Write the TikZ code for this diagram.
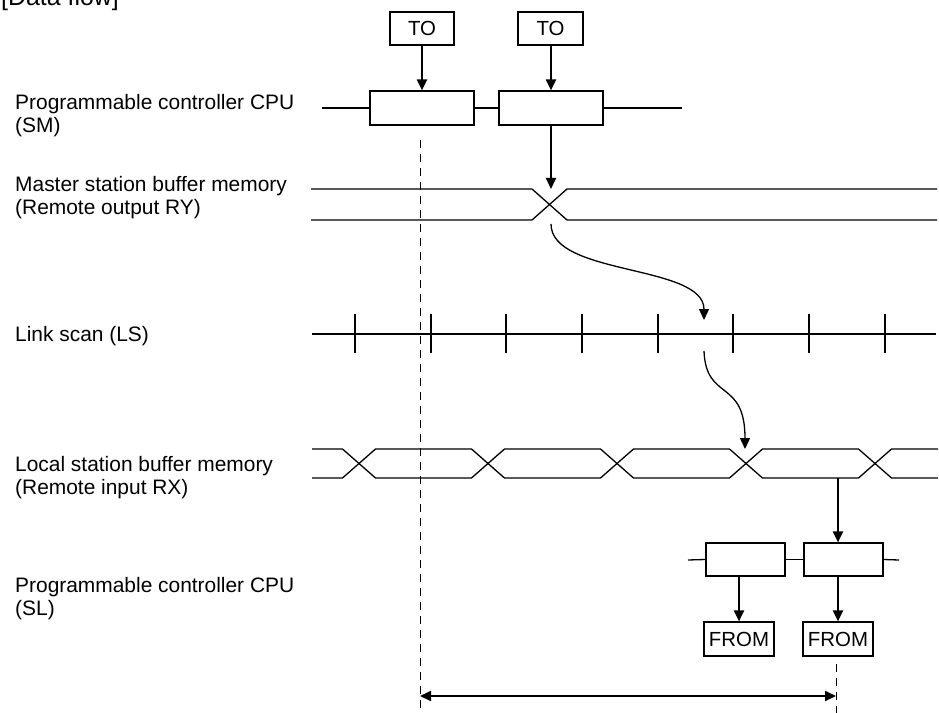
\documentclass[tikz,border=0pt]{standalone}
\usepackage{fontspec}
\setmainfont{Liberation Sans}
\usetikzlibrary{arrows.meta}
\begin{document}
\begin{tikzpicture}[x=1bp,y=-1bp,
  box/.style={draw,line width=1.2pt,inner sep=0pt,fill=white},
  txtbox/.style={box,font=\fontsize{20.5}{24}\selectfont},
  lbl/.style={anchor=base west,inner sep=0pt,font=\fontsize{21}{24}\selectfont},
  arr/.style={line width=2bp,-{Triangle[length=11bp,width=10bp]}},
  darr/.style={line width=2bp,{Triangle[length=11bp,width=10bp]}-{Triangle[length=11bp,width=10bp]}},
  curvearr/.style={line width=1.3bp,-{Triangle[length=11bp,width=10bp]}},
  bus/.style={line width=1.3bp},
  scan/.style={line width=2bp},
  guide/.style={line width=1bp,dash pattern=on 8bp off 6bp}]
\useasboundingbox (0,0) rectangle (939,713);

% heading (cut off at top, as in the reference)
\node[anchor=base west,inner sep=0pt,font=\fontsize{25}{28}\selectfont] (head) at (1,6) {[Data flow]};

% row labels
\node[lbl] (sm1) at (15,110) {Programmable controller CPU};
\node[lbl] (sm2) at (15,133) {(SM)};
\node[lbl] (ms1) at (15,191) {Master station buffer memory};
\node[lbl] (ms2) at (15,214) {(Remote output RY)};
\node[lbl] (ls1) at (15,341) {Link scan (LS)};
\node[lbl] (lc1) at (15,471) {Local station buffer memory};
\node[lbl] (lc2) at (15,494) {(Remote input RX)};
\node[lbl] (sl1) at (15,592) {Programmable controller CPU};
\node[lbl] (sl2) at (15,615) {(SL)};

% guide lines
\coordinate (g1t) at (420,140);
\coordinate (g1b) at (420,713);
\coordinate (g2t) at (836,664);
\coordinate (g2b) at (836,713);
\draw[guide] (g1t) -- (g1b);
\draw[guide] (g2t) -- (g2b);

% CPU (SM) row
\coordinate (smL) at (322,108);
\coordinate (smR) at (682,108);
\node[box,minimum width=104bp,minimum height=34bp] (cpu1) at (422,108) {};
\node[box,minimum width=104bp,minimum height=34bp] (cpu2) at (551,108) {};
\draw[bus] (smL) -- (cpu1.west);
\draw[bus] (cpu1.east) -- (cpu2.west);
\draw[bus] (cpu2.east) -- (smR);
\node[txtbox,minimum width=64bp,minimum height=33bp] (to1) at (422,28.5) {TO};
\node[txtbox,minimum width=65bp,minimum height=33bp] (to2) at (550.5,28.5) {TO};
\draw[arr] (to1.south) -- (cpu1.north);
\draw[arr] (to2.south -| cpu2.north) -- (cpu2.north);

% master buffer
\draw[bus] (311,189) -- (532,189) -- (567,220) -- (937,220);
\draw[bus] (311,220) -- (532,220) -- (567,189) -- (937,189);
\coordinate (mx) at (551,189);
\draw[arr] (cpu2.south) -- (mx);

% link scan
\draw[scan] (312,334) -- (936,334);
\foreach \t in {355,431,506,582,658,733,809,885}
  \draw[scan] (\t,314) -- (\t,353);

% curved transfers
\coordinate (c1s) at (551,224);
\coordinate (c1e) at (704,320);
\draw[curvearr] (c1s) .. controls (551,276) and (704,264) .. (c1e);
\coordinate (c2s) at (704,351);
\coordinate (c2e) at (745,449);
\draw[curvearr] (c2s) .. controls (706,402) and (745,378) .. (c2e);

% local buffer
\draw[bus] (312,449) -- (342.5,449) -- (375.5,478) -- (471.5,478) -- (504.5,449) -- (600.5,449) -- (633.5,478) -- (729.5,478) -- (762.5,449) -- (858.5,449) -- (891.5,478) -- (938,478);
\draw[bus] (312,478) -- (342.5,478) -- (375.5,449) -- (471.5,449) -- (504.5,478) -- (600.5,478) -- (633.5,449) -- (729.5,449) -- (762.5,478) -- (858.5,478) -- (891.5,449) -- (938,449);
\coordinate (lx) at (838,478);

% CPU (SL) row
\coordinate (slL) at (688,560);
\coordinate (slR) at (899,560);
\node[box,minimum width=79bp,minimum height=33bp] (sl3) at (745.5,559.5) {};
\node[box,minimum width=79bp,minimum height=33bp] (sl4) at (843.5,559.5) {};
\draw[bus] (slL) -- (sl3.west);
\draw[bus] (sl3.east) -- (sl4.west);
\draw[bus] (sl4.east) -- (slR);
\draw[arr] (lx) -- (lx |- sl4.north);
\node[txtbox,minimum width=70bp,minimum height=34bp] (fr1) at (739,639) {FROM};
\node[txtbox,minimum width=70bp,minimum height=34bp] (fr2) at (838,639) {FROM};
\draw[arr] (fr1.north |- sl3.south) -- (fr1.north);
\draw[arr] (fr2.north |- sl4.south) -- (fr2.north);

% span arrow
\coordinate (sa) at (420,696);
\coordinate (sb) at (836,696);
\draw[darr] (sa) -- (sb);
\end{tikzpicture}
\end{document}
